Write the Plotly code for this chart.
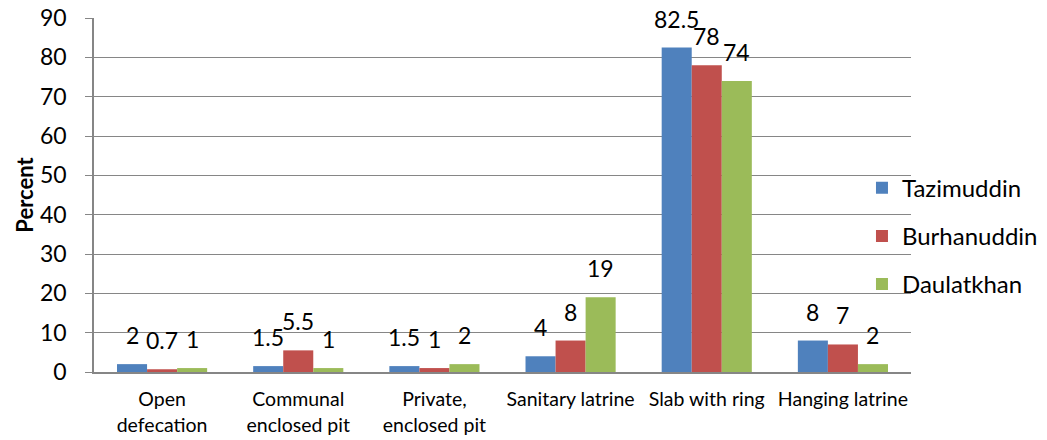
import plotly.graph_objects as go

categories = ["Open<br>defecation", "Communal<br>enclosed pit", "Private,<br>enclosed pit",
              "Sanitary latrine", "Slab with ring", "Hanging latrine"]
tazimuddin = [2, 1.5, 1.5, 4, 82.5, 8]
burhanuddin = [0.7, 5.5, 1, 8, 78, 7]
daulatkhan = [1, 1, 2, 19, 74, 2]
series_names = ["Tazimuddin", "Burhanuddin", "Daulatkhan"]
series_colors = ["#4F81BD", "#C0504D", "#9BBB59"]
y_ticks = [0, 10, 20, 30, 40, 50, 60, 70, 80, 90]

FONT = "Lato, Calibri, Carlito, sans-serif"
GRID = "#868686"

fig = go.Figure()
all_series = [tazimuddin, burhanuddin, daulatkhan]
for i, (name, vals, col) in enumerate(zip(series_names, all_series, series_colors)):
    fig.add_trace(go.Bar(
        x=categories, y=vals, name=name, marker_color=col,
        marker_line_width=0, legendgroup=name,
        hoverinfo="x+y+name",
    ))
    # value labels above each bar
    for cat, v in zip(categories, vals):
        fig.add_annotation(
            x=cat, y=v, text=f"{v:g}", showarrow=False,
            xshift=(i - 1) * 30, yshift=13, yanchor="bottom",
            font=dict(family=FONT, size=23, color="#000000"),
        )

fig.update_layout(
    width=1047, height=440,
    margin=dict(l=94, r=136, t=18, b=68, autoexpand=False),
    paper_bgcolor="white", plot_bgcolor="white",
    barmode="group", bargap=0.338, bargroupgap=0,
    font=dict(family=FONT, color="#000000"),
    showlegend=True,
    legend=dict(
        x=0.940, xanchor="left", y=0.583, yanchor="top",
        bgcolor="rgba(0,0,0,0)", font=dict(family=FONT, size=24),
        tracegroupgap=14, itemsizing="constant",
    ),
    xaxis=dict(
        showline=True, linecolor=GRID, linewidth=1.5,
        ticks="", showgrid=False, automargin=False,
        tickfont=dict(family=FONT, size=19.5),
        ticklabelstandoff=9,
    ),
    yaxis=dict(
        range=[0, 90], tickvals=y_ticks, automargin=False,
        showgrid=True, gridcolor=GRID, gridwidth=1,
        showline=True, linecolor=GRID, linewidth=1.5,
        ticks="outside", ticklen=7, tickcolor=GRID,
        zeroline=False,
        tickfont=dict(family=FONT, size=23),
        ticklabelstandoff=14,
        title=dict(text="<b>Percent</b>", font=dict(family=FONT, size=22), standoff=0),
    ),
)

fig.write_html("out.html")
